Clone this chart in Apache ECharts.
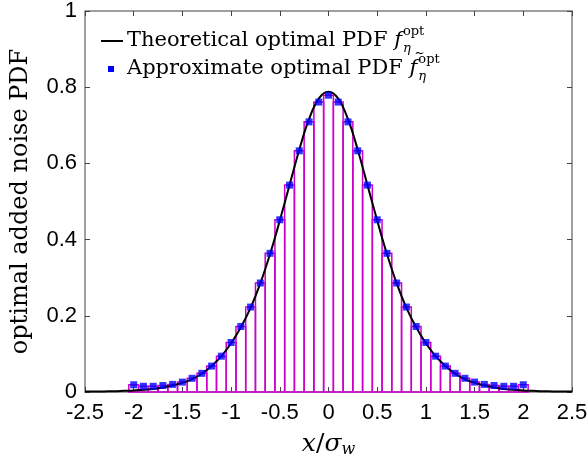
<!DOCTYPE html>
<html>
<head>
<meta charset="utf-8">
<script src="https://cdn.jsdelivr.net/npm/echarts@6/dist/echarts.min.js"></script>
<style>
  html, body { margin: 0; padding: 0; background: #fff; }
  #chart { width: 588px; height: 464px; }
</style>
</head>
<body>
<div id="chart"></div>
<script>
// bin centres of the approximate (discrete) PDF
const binCenters = [-2.0, -1.9, -1.8, -1.7, -1.6, -1.5, -1.4, -1.3, -1.2, -1.1, -1.0,
  -0.9, -0.8, -0.7, -0.6, -0.5, -0.4, -0.3, -0.2, -0.1, 0.0,
  0.1, 0.2, 0.3, 0.4, 0.5, 0.6, 0.7, 0.8, 0.9, 1.0,
  1.1, 1.2, 1.3, 1.4, 1.5, 1.6, 1.7, 1.8, 1.9, 2.0];
const approxPdf = [0.019, 0.015, 0.015, 0.017, 0.020, 0.026, 0.036, 0.049, 0.068, 0.094, 0.130,
  0.172, 0.223, 0.286, 0.364, 0.452, 0.543, 0.633, 0.709, 0.761, 0.779,
  0.761, 0.709, 0.633, 0.543, 0.452, 0.364, 0.286, 0.223, 0.172, 0.130,
  0.094, 0.068, 0.049, 0.036, 0.026, 0.020, 0.017, 0.015, 0.015, 0.019];

// theoretical curve
const curveX = [-2.5, -2.4, -2.3, -2.2, -2.1, -2.0, -1.9, -1.8, -1.7, -1.6, -1.5, -1.4, -1.3,
  -1.2, -1.1, -1.0, -0.9, -0.8, -0.7, -0.6, -0.5, -0.4, -0.3, -0.2, -0.1, 0.0,
  0.1, 0.2, 0.3, 0.4, 0.5, 0.6, 0.7, 0.8, 0.9, 1.0, 1.1, 1.2, 1.3,
  1.4, 1.5, 1.6, 1.7, 1.8, 1.9, 2.0, 2.1, 2.2, 2.3, 2.4, 2.5];
const curvePdf = [0.001, 0.001, 0.0015, 0.002, 0.003, 0.004, 0.006, 0.008, 0.012, 0.017, 0.024, 0.034, 0.048,
  0.068, 0.094, 0.128, 0.170, 0.221, 0.285, 0.362, 0.450, 0.543, 0.636, 0.716, 0.770, 0.788,
  0.770, 0.716, 0.636, 0.543, 0.450, 0.362, 0.285, 0.221, 0.170, 0.128, 0.094, 0.068, 0.048,
  0.034, 0.024, 0.017, 0.012, 0.008, 0.006, 0.004, 0.003, 0.002, 0.0015, 0.001, 0.001];

const xRange = [-2.5, 2.5, 0.5];   // min, max, interval
const yRange = [0, 1, 0.2];
const binWidth = 0.1;

const serif = '"DejaVu Serif", serif';
const sans = '"Liberation Sans", Arial, sans-serif';
const magenta = '#cc00cc';

const myChart = echarts.init(document.getElementById('chart'));

// measure text so the sub/superscripts land behind "f"
const ctx = document.createElement('canvas').getContext('2d');
const measure = (txt, font) => { ctx.font = font; return ctx.measureText(txt).width; };

const legFont = '21px ' + serif;
const legItFont = 'italic 21px ' + serif;
const smallIt = 'italic 13px ' + serif;
const small = '13px ' + serif;

const legX = 127;
const rows = [
  { y: 41, text: 'Theoretical optimal PDF ', tilde: false },
  { y: 69, text: 'Approximate optimal PDF ', tilde: true },
];
const legendGraphic = [
  { type: 'line', shape: { x1: 101, y1: 41, x2: 123, y2: 41 }, style: { stroke: '#000', lineWidth: 2 } },
  { type: 'rect', shape: { x: 108, y: 66, width: 6, height: 6 }, style: { fill: '#0000ff' } },
];
rows.forEach((r) => {
  const w1 = measure(r.text, legFont);
  const wf = measure('f', legItFont);
  const fx = legX + w1;
  legendGraphic.push({ type: 'text', x: legX, y: r.y, style: { text: r.text, font: legFont, fill: '#000', verticalAlign: 'middle' } });
  legendGraphic.push({ type: 'text', x: fx, y: r.y, style: { text: 'f', font: legItFont, fill: '#000', verticalAlign: 'middle' } });
  if (r.tilde) {
    legendGraphic.push({ type: 'text', x: fx + 5, y: r.y - 15, style: { text: '~', font: '12px ' + serif, fill: '#000', verticalAlign: 'middle' } });
  }
  legendGraphic.push({ type: 'text', x: fx + wf + 1, y: r.y + 8, style: { text: 'η', font: smallIt, fill: '#000', verticalAlign: 'middle' } });
  legendGraphic.push({ type: 'text', x: fx + wf + 1, y: r.y - 9, style: { text: 'opt', font: small, fill: '#000', verticalAlign: 'middle' } });
});

const tickStyle = { show: true, inside: true, length: 5, lineStyle: { color: '#444', width: 1 } };
const noLine = { show: false, onZero: false };

const option = {
  animation: false,
  grid: {
    left: 85, right: 16, top: 11, bottom: 72,
    outerBoundsMode: 'none',
    containLabel: false,
    show: true, borderColor: '#808080', borderWidth: 1.5, backgroundColor: '#fff',
  },
  xAxis: [
    {
      type: 'value', min: xRange[0], max: xRange[1], interval: xRange[2],
      axisLine: noLine,
      axisTick: tickStyle,
      splitLine: { show: false },
      axisLabel: { color: '#000', fontSize: 22, fontFamily: sans, margin: 10 },
      name: '{i|x}{n|/}{i|σ}{s|w}',
      nameLocation: 'middle',
      nameGap: 38,
      nameTextStyle: {
        rich: {
          i: { fontFamily: serif, fontStyle: 'italic', fontSize: 25, color: '#000' },
          n: { fontFamily: serif, fontSize: 25, color: '#000' },
          s: { fontFamily: serif, fontStyle: 'italic', fontSize: 16, color: '#000', padding: [12, 0, 0, 0] },
        },
      },
    },
    {
      type: 'value', position: 'top', min: xRange[0], max: xRange[1], interval: xRange[2],
      axisLine: noLine, axisTick: tickStyle, axisLabel: { show: false }, splitLine: { show: false },
    },
  ],
  yAxis: [
    {
      type: 'value', min: yRange[0], max: yRange[1], interval: yRange[2],
      axisLine: noLine,
      axisTick: tickStyle,
      splitLine: { show: false },
      axisLabel: { color: '#000', fontSize: 22, fontFamily: sans, margin: 8 },
      name: 'optimal added noise PDF',
      nameLocation: 'middle',
      nameGap: 52,
      nameTextStyle: { fontFamily: serif, fontSize: 24, color: '#000' },
    },
    {
      type: 'value', position: 'right', min: yRange[0], max: yRange[1], interval: yRange[2],
      axisLine: noLine, axisTick: tickStyle, axisLabel: { show: false }, splitLine: { show: false },
    },
  ],
  graphic: legendGraphic,
  series: [
    {
      name: 'bins',
      type: 'custom',
      data: binCenters.map((x, i) => [x, approxPdf[i]]),
      renderItem: (params, api) => {
        const x = api.value(0), v = api.value(1);
        const p0 = api.coord([x - binWidth / 2, v]);
        const p1 = api.coord([x + binWidth / 2, 0]);
        return {
          type: 'rect',
          shape: { x: p0[0], y: p0[1], width: p1[0] - p0[0], height: p1[1] - p0[1] },
          style: { fill: 'none', stroke: magenta, lineWidth: 1.5 },
        };
      },
      z: 1,
    },
    {
      name: 'Theoretical optimal PDF',
      type: 'line',
      data: curveX.map((x, i) => [x, curvePdf[i]]),
      smooth: 0.4,
      showSymbol: false,
      lineStyle: { color: '#000', width: 2 },
      z: 2,
    },
    {
      name: 'Approximate optimal PDF',
      type: 'scatter',
      data: binCenters.map((x, i) => [x, approxPdf[i]]),
      symbol: 'rect',
      symbolSize: 7,
      itemStyle: { color: '#0000ff' },
      z: 3,
    },
  ],
};

myChart.setOption(option);
</script>
</body>
</html>
